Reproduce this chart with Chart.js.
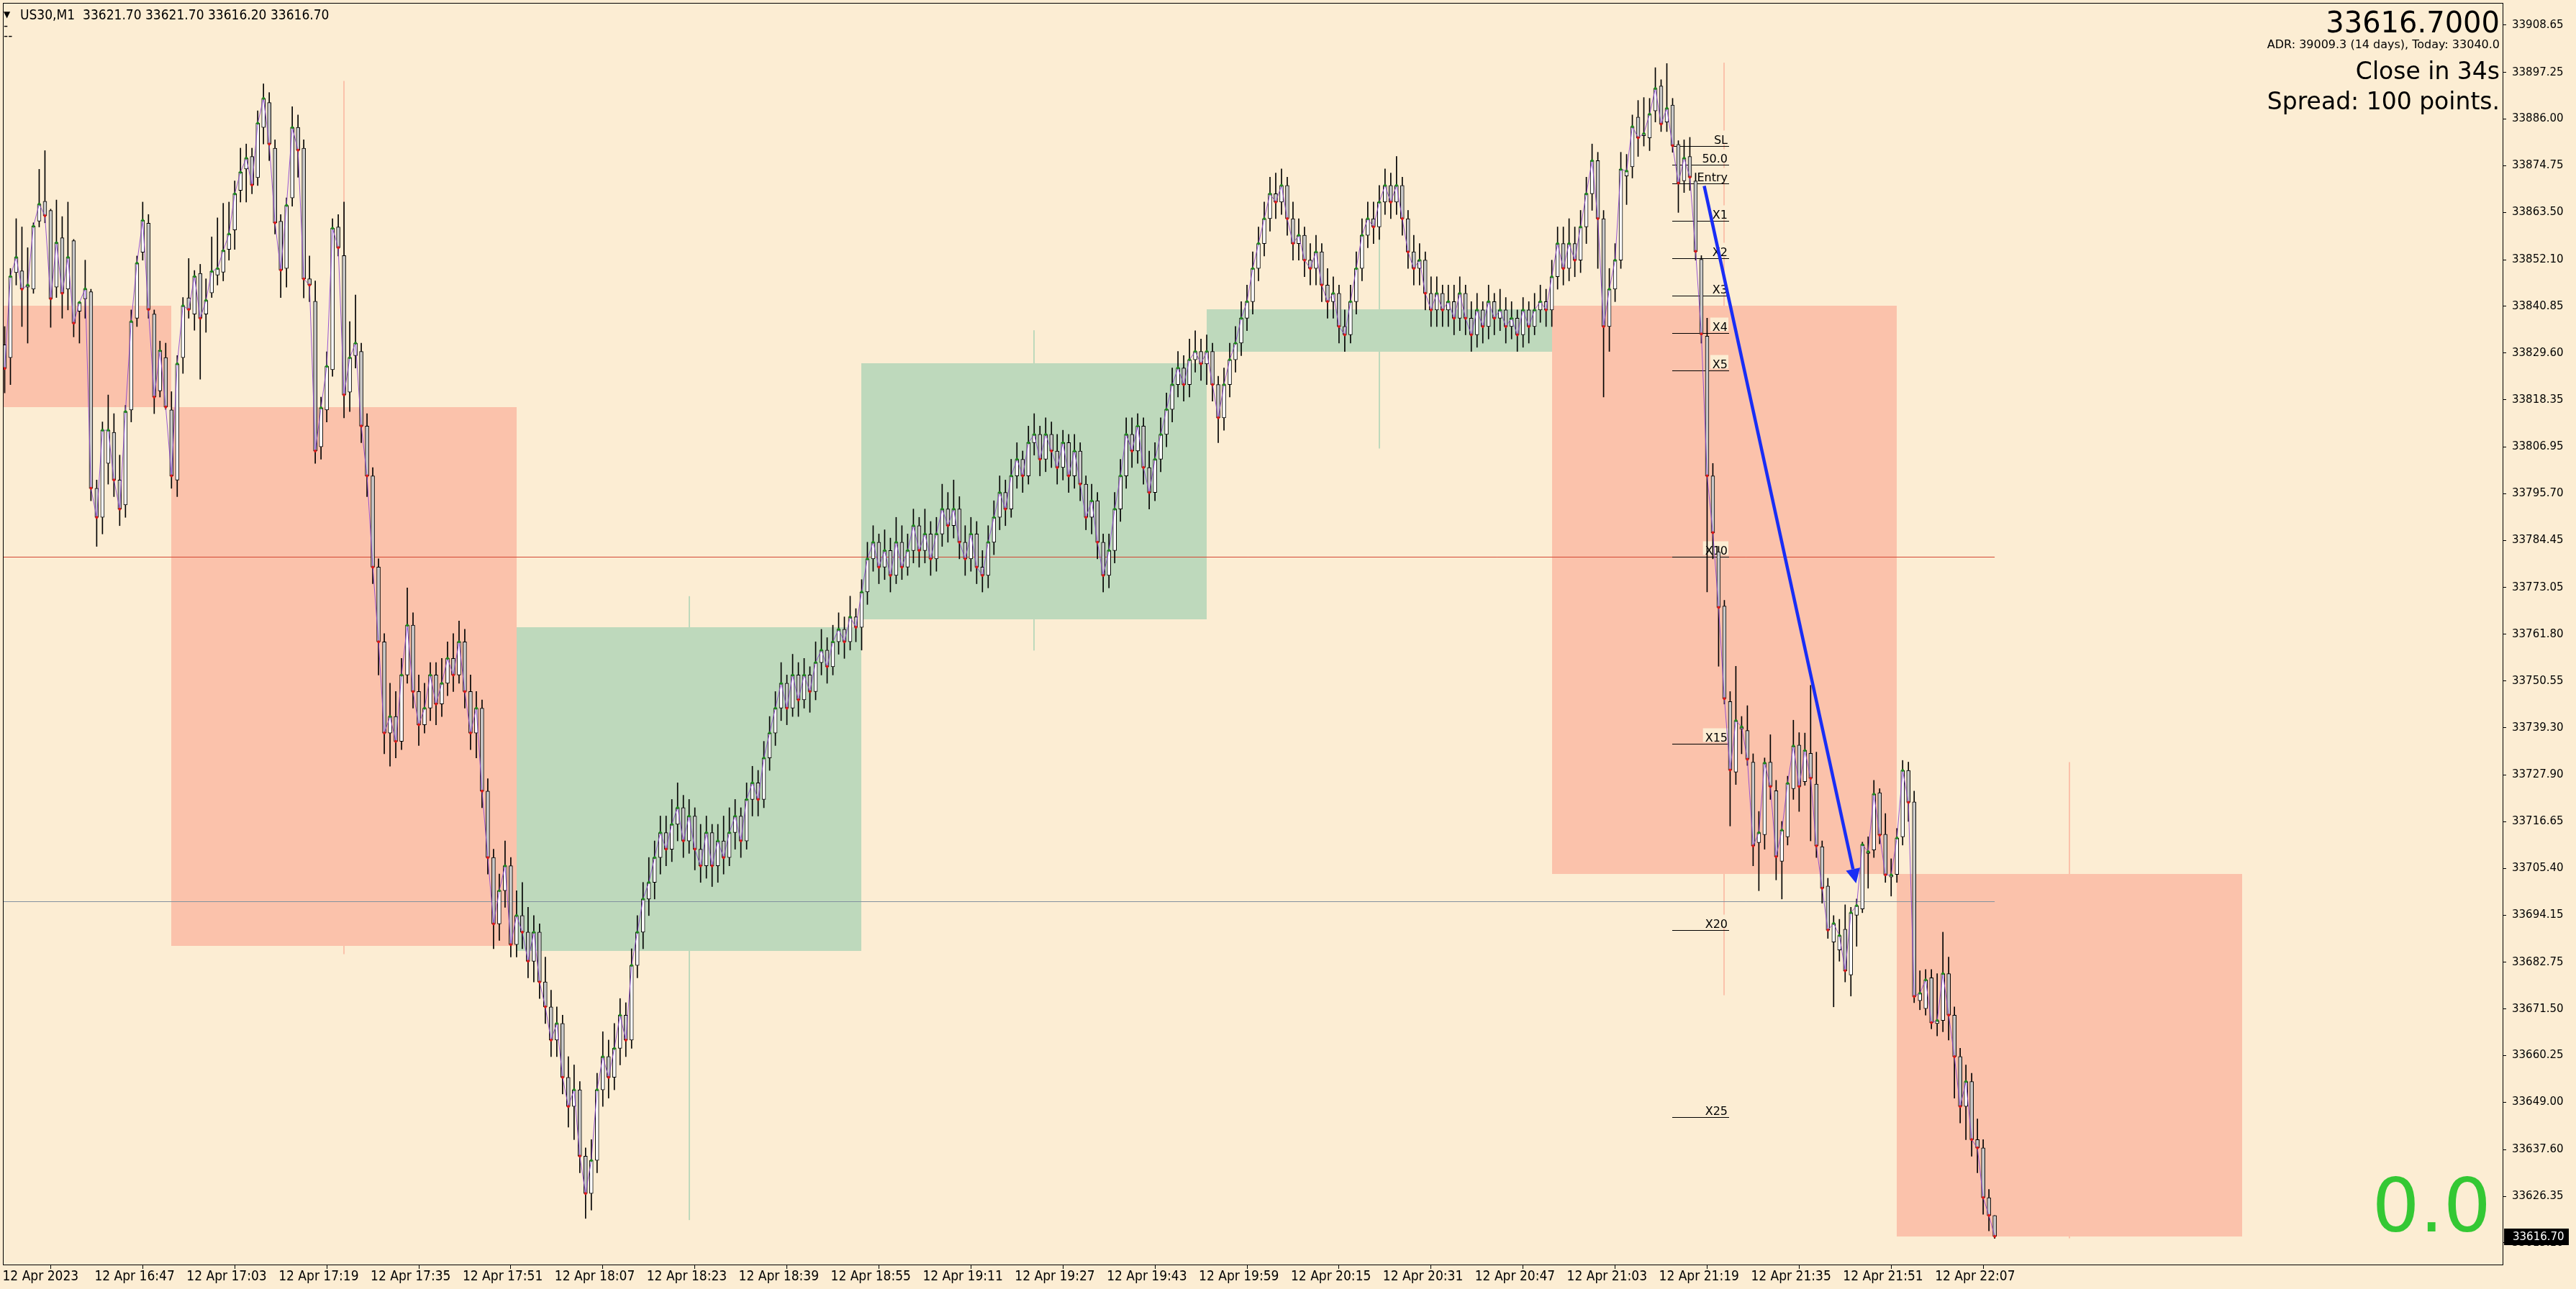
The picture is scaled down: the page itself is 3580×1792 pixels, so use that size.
<!DOCTYPE html>
<html><head><meta charset="utf-8">
<script src="https://cdn.jsdelivr.net/npm/chart.js@4.4.0/dist/chart.umd.min.js"></script>
<style>html,body{margin:0;padding:0;background:#fcedd3;overflow:hidden}canvas{display:block}</style>
</head><body>
<canvas id="c" width="3580" height="1792" style="width:3580px;height:1792px"></canvas>
<script>
// ---------- DATA ----------
const symbolTitle = 'US30,M1';
const lastOHLC = ['33621.70', '33621.70', '33616.20', '33616.70'];
const infoPrice = '33616.7000';
const infoADR = 'ADR: 39009.3 (14 days), Today: 33040.0';
const infoClose = 'Close in 34s';
const infoSpread = 'Spread: 100 points.';
const infoPips = '0.0';

// one-minute candles, 12 Apr 16:31 ... 22:17
const opens = [
33831.6,33828.5,33849.0,33849.4,33845.5,33845.0,33861.4,33866.2,33864.0,33845.5,
33857.4,33845.0,33856.7,33839.7,33842.7,33844.4,33797.0,33790.0,33803.0,33810.5,
33799.0,33793.0,33815.9,33838.0,33853.9,33860.9,33839.0,33820.5,33828.5,33815.9,
33799.0,33828.5,33842.9,33839.0,33848.8,33839.0,33844.1,33848.4,33849.1,33854.6,
33859.3,33868.8,33874.0,33877.0,33871.9,33884.0,33890.0,33879.0,33861.4,33850.0,
33867.0,33884.0,33879.0,33847.5,33842.1,33807.0,33815.9,33825.6,33860.0,33853.1,
33820.2,33829.0,33830,33812,33800,33778,33760,33738,33742,33736,
33752,33764,33748,33740,33744,33752,33745,33750,33756,33752,
33760,33748,33738,33744,33724,33708,33692,33700,33706,33687,
33694,33690,33683,33690,33678,33672,33664,33668,33655,33648,
33652,33636,33627,33635,33652,33660,33655,33662,33670,33664,
33682,33690,33698,33702,33708,33714,33710,33716,33720,33712,
33718,33710,33706,33714,33706,33712,33708,33714,33718,33712,
33722,33726,33722,33732,33738,33744,33750,33744,33752,33746,
33752,33748,33755,33758,33754,33760,33763,33760,33766,33763.5,
33772,33780,33784,33778,33782,33776,33784,33778,33782,33788,
33782,33786,33780,33786,33792,33788,33792,33784,33780,33786,
33778,33776,33784,33790,33796,33792,33800,33804,33800,33808,
33810,33804,33810,33806,33802,33808,33800,33806,33798,33790,
33794,33784,33776,33782,33792,33800,33810,33806,33812,33802,
33796,33804,33810,33816,33822,33826,33822,33828,33830,33827,
33830,33822,33814,33822,33828,33832,33838,33842,33850,33856,
33862,33868,33866,33870,33862,33856,33858,33852,33850,33854,
33846,33842,33844,33836,33834,33842,33850,33858,33862,33860,
33866,33870,33866,33870,33862,33854,33850,33852,33844,33840,
33844,33840,33842,33838,33844,33838,33834,33840,33836,33842,
33838,33840,33836,33838,33834,33840,33836,33840,33842,33840,
33848,33856,33850,33856,33852,33860,33868,33876,33862,33836,
33845,33852,33872.3,33874.5,33886.5,33882.0,33881.5,33888.0,33894.0,33885.3,
33889.4,33879.9,33871.1,33877.0,33871.1,33852.2,33833.7,33800.0,33781.7,33768.6,
33745.6,33728.6,33739.0,33738.6,33731.0,33711.6,33713.5,33731.0,33724.1,33707.1,
33713.0,33724.6,33735.1,33726.3,33733.1,33725.7,33710.6,33701.1,33687.6,33685.7,
33690.7,33679.7,33694.1,33695.6,33709.0,33709.8,33723.6,33713.6,33703.3,33703.9,
33713.0,33729.0,33721.4,33673.5,33671.6,33679.0,33668.0,33668.7,33680,33670,
33660,33648,33654,33640,33638,33626,33621.7];

const highs = [
33836.0,33850.0,33862.0,33860.0,33855.0,33861.0,33873.9,33878.4,33864.3,33866.5,
33862.5,33866.0,33857.0,33842.0,33852.0,33845.0,33799.0,33813.0,33819.5,33815.0,
33805.0,33817.0,33840.0,33853.0,33866.0,33863.0,33840.0,33832.5,33832.0,33820.3,
33829.0,33843.0,33852.4,33849.5,33851.0,33847.5,33857.6,33862.2,33865.7,33866.0,
33871.1,33879.0,33880.0,33879.0,33888.0,33894.5,33892.4,33881.0,33863.0,33867.0,
33889.0,33887.0,33881.0,33853.0,33847.0,33819.0,33829.9,33862.0,33863.0,33866.0,
33837.2,33843.6,33832,33815,33802,33780,33762,33750,33748,33756,
33773,33767,33752,33750,33755,33755,33756,33760,33762,33765,
33763,33752,33748,33746,33727,33710,33704,33712,33708,33700,
33702,33696,33694,33692,33684,33676,33672,33670,33660,33658,
33654,33638,33640,33656,33666,33664,33668,33674,33673,33686,
33694,33702,33708,33712,33718,33718,33722,33726,33723,33722,
33720,33716,33718,33716,33716,33718,33720,33722,33720,33726,
33730,33729,33736,33742,33748,33755,33752,33757,33755,33756,
33754,33760,33763,33761,33764,33767,33766,33771,33768,33775,
33784,33788,33786,33787,33785,33790,33788,33786,33792,33790,
33792,33789,33790,33798,33796,33799,33795,33788,33790,33789,
33782,33788,33794,33800,33799,33804,33808,33806,33812,33815,
33812,33814,33813,33810,33811,33810,33810,33808,33800,33798,
33796,33786,33786,33796,33804,33814,33814,33815,33814,33806,
33808,33814,33820,33826,33830,33829,33833,33835,33833,33834,
33832,33824,33826,33832,33836,33842,33846,33854,33860,33866,
33872,33873,33874,33872,33866,33862,33860,33856,33858,33856,
33850,33848,33846,33840,33846,33854,33862,33866,33866,33870,
33874,33873,33877,33872,33864,33858,33856,33854,33848,33848,
33846,33846,33846,33848,33846,33842,33844,33842,33846,33844,
33845,33843,33842,33840,33843,33842,33844,33846,33845,33852,
33860,33860,33862,33860,33864,33872,33880,33878,33864,33850,
33856,33878,33877.5,33887,33890.5,33891.2,33891,33898.4,33895.5,33899.4,
33891,33880.8,33881,33881.6,33873,33853.1,33838,33803,33783,33770,
33748,33754.1,33742,33744.6,33733,33719.1,33732,33737.6,33726.6,33716.7,
33727.6,33741.1,33738.1,33738,33749.5,33733.4,33712,33703,33694,33693.1,
33696.6,33696,33698,33711.7,33713,33726.6,33724.6,33718.6,33707.7,33715,
33731.4,33731,33724,33680.7,33681,33681,33680,33690,33684,33672,
33662,33658,33656,33645,33640,33628,33621.7];

const lows = [
33820.0,33822.0,33846.0,33836.0,33832.0,33844.0,33860.0,33861.0,33835.8,33843.0,
33838.0,33840.0,33833.5,33832.0,33838.0,33794.0,33783.0,33786.0,33798.0,33795.0,
33788.0,33790.0,33813.0,33836.0,33852.0,33838.0,33815.0,33819.0,33816.0,33797.0,
33795.0,33824.7,33838.0,33835.1,33823.3,33834.6,33843.0,33846.0,33847.0,33852.0,
33854.6,33866.0,33866.0,33868.0,33870.0,33880.0,33876.0,33858.3,33843.0,33845.5,
33865.0,33872.0,33842.9,33842.0,33803.0,33804.0,33813.0,33824.0,33853.0,33814.0,
33815.5,33826.0,33808,33795,33774,33752,33733,33730,33732,33734,
33750,33744,33735,33738,33741,33740,33742,33747,33748,33750,
33744,33734,33732,33720,33704,33686,33688,33696,33684,33684,
33686,33679,33678,33674,33668,33660,33660,33651,33643,33640,
33632,33621,33623,33632,33648,33650,33652,33658,33660,33662,
33679,33686,33694,33698,33704,33706,33707,33712,33708,33709,
33705,33702,33703,33701,33702,33704,33706,33710,33708,33710,
33718,33718,33720,33729,33735,33741,33740,33742,33742,33744,
33743,33746,33752,33750,33752,33757,33756,33758,33760,33758,
33769,33777,33774,33775,33772,33774,33775,33776,33779,33778,
33779,33776,33777,33783,33784,33785,33780,33776,33777,33774,
33772,33773,33781,33787,33788,33790,33797,33796,33798,33805,
33800,33801,33802,33798,33799,33796,33797,33794,33787,33786,
33780,33772,33773,33779,33789,33797,33802,33803,33798,33792,
33794,33801,33807,33813,33819,33818,33819,33825,33823,33822,
33818,33808,33811,33819,33825,33829,33835,33839,33847,33853,
33859,33862,33863,33858,33852,33852,33848,33846,33846,33842,
33838,33838,33832,33830,33832,33839,33847,33855,33856,33857,
33863,33862,33863,33858,33850,33846,33846,33840,33836,33836,
33836,33836,33834,33835,33834,33830,33831,33832,33833,33834,
33835,33832,33833,33830,33831,33832,33834,33837,33836,33836,
33845,33846,33847,33848,33849,33856,33864,33850,33819,33830,
33842,33850,33865.4,33871.8,33877,33879.5,33878.4,33885.3,33883,33883,
33878,33863.5,33868.3,33868.8,33852,33832,33772,33780,33754.1,33745,
33715.6,33725.6,33733,33730.2,33706,33700,33710,33722,33702.6,33698,
33711,33722,33719.1,33725.4,33712,33708,33697,33688.5,33672,33683,
33678,33674.6,33686.6,33694.7,33700.6,33708,33711.3,33702,33698.7,33702,
33711,33716.7,33673,33671.3,33670,33666.7,33665,33666,33664,33650,
33644,33640,33636,33632,33622,33618,33616.2];

const closes = [
33825.9,33848.1,33852.7,33845.0,33846.0,33860.2,33865.5,33862.7,33842.7,33856.2,
33844.0,33852.7,33836.8,33841.8,33845.1,33797.0,33790.0,33811.0,33811.0,33799.0,
33792.0,33815.5,33837.2,33851.3,33861.6,33840.1,33819.0,33830.2,33816.6,33800.0,
33827.0,33841.0,33840.1,33848.1,33838.0,33842.3,33849.3,33850.0,33854.3,33858.3,
33868.0,33873.2,33876.6,33870.1,33885.0,33891.0,33880.0,33861.0,33849.6,33865.2,
33884.0,33878.5,33847.5,33846.0,33806.0,33816.4,33826.4,33859.7,33855.0,33819.5,
33828.5,33832.0,33812,33800,33778,33760,33738,33742,33736,33752,
33764,33748,33740,33744,33752,33745,33750,33756,33752,33760,
33748,33738,33744,33724,33708,33692,33700,33706,33687,33694,
33690,33683,33690,33678,33672,33664,33668,33655,33648,33652,
33636,33627,33635,33652,33660,33655,33662,33670,33664,33682,
33690,33698,33702,33708,33714,33710,33716,33720,33712,33718,
33710,33706,33714,33706,33712,33708,33714,33718,33712,33722,
33726,33722,33732,33738,33744,33750,33744,33752,33746,33752,
33748,33755,33758,33754,33760,33763,33760,33766,33763.5,33772,
33780,33784,33778,33782,33776,33784,33778,33782,33788,33782,
33786,33780,33786,33792,33788,33792,33784,33780,33786,33778,
33776,33784,33790,33796,33792,33800,33804,33800,33808,33810,
33804,33810,33806,33802,33808,33800,33806,33798,33790,33794,
33784,33776,33782,33792,33800,33810,33806,33812,33802,33796,
33804,33810,33816,33822,33826,33822,33828,33830,33827,33830,
33822,33814,33822,33828,33832,33838,33842,33850,33856,33862,
33868,33866,33870,33862,33856,33858,33852,33850,33854,33846,
33842,33844,33836,33834,33842,33850,33858,33862,33860,33866,
33870,33866,33870,33862,33854,33850,33852,33844,33840,33844,
33840,33842,33838,33844,33838,33834,33840,33836,33842,33838,
33840,33836,33838,33834,33840,33836,33840,33842,33840,33848,
33856,33850,33856,33852,33860,33868,33876,33862,33836,33845,
33852,33873.9,33873.5,33884.2,33881.5,33882.5,33887.2,33893.4,33884.8,33888.6,
33879.6,33870.6,33876.6,33872.0,33854.1,33834.2,33800.0,33786.3,33768.3,33746.3,
33729.1,33741.0,33739.5,33731.7,33710.8,33714.0,33730.8,33725.1,33708.2,33714.6,
33725.9,33734.9,33725.1,33733.8,33727.1,33710.8,33700.6,33690.5,33692.1,33689.2,
33680.7,33694.7,33696.4,33711.1,33709.4,33723.3,33713.4,33703.8,33703.8,33712.7,
33729.0,33721.3,33674.5,33675.3,33678.5,33668.2,33668.7,33680,33670,33660,
33648,33654,33640,33638,33626,33621.7,33616.7];

// hourly candles drawn as boxes (index of the hh:00 minute)
const hourStart = [-31, 29, 89, 149, 209, 269, 329];
const hourOpen  = [33841.0, 33816.5, 33685.5, 33765.4, 33829.9, 33841.0, 33704.1];
const hourClose = [33816.5, 33686.7, 33763.5, 33827.2, 33840.2, 33704.1, 33616.7];
const hourHigh  = [33870.0, 33895.2, 33771.0, 33835.1, 33858.8, 33899.6, 33731.0];
const hourLow   = [33794.0, 33684.7, 33620.6, 33757.9, 33806.6, 33674.8, 33616.2];

// horizontal lines
const hLinePrices = [33780.5, 33697.4];
const hLineColors = ['rgb(210,70,50)', 'rgb(130,145,160)'];
const hLineEndIdx = 346;

// trade levels tool
const fibLabels = ['SL', '50.0', 'Entry', 'X1', 'X2', 'X3', 'X4', 'X5', 'X10', 'X15', 'X20', 'X25'];
const fibPrices = [33879.5, 33875.0, 33870.5, 33861.5, 33852.5, 33843.5, 33834.5, 33825.5, 33780.5, 33735.5, 33690.5, 33645.5];
const fibFromIdx = 290, fibToIdx = 299.6;

// blue arrow [index, price]
const arrowFrom = [295.5, 33869.9];
const arrowTo = [321.9, 33701.8];

// axis ticks
const xTickIdx = [0,16,32,48,64,80,96,112,128,144,160,176,192,208,224,240,256,272,288,304,320,336];
const xTickLabels = ['12 Apr 2023','12 Apr 16:47','12 Apr 17:03','12 Apr 17:19','12 Apr 17:35','12 Apr 17:51',
 '12 Apr 18:07','12 Apr 18:23','12 Apr 18:39','12 Apr 18:55','12 Apr 19:11','12 Apr 19:27','12 Apr 19:43',
 '12 Apr 19:59','12 Apr 20:15','12 Apr 20:31','12 Apr 20:47','12 Apr 21:03','12 Apr 21:19','12 Apr 21:35',
 '12 Apr 21:51','12 Apr 22:07'];
const yTicks = [33908.65,33897.25,33886.00,33874.75,33863.50,33852.10,33840.85,33829.60,33818.35,33806.95,
 33795.70,33784.45,33773.05,33761.80,33750.55,33739.30,33727.90,33716.65,33705.40,33694.15,33682.75,
 33671.50,33660.25,33649.00,33637.60,33626.35,33615.10];

// ---------- STYLE ----------
const BG = '#fcedd3';
const RED_BOX = 'rgb(251,194,171)';
const GREEN_BOX = 'rgb(190,217,188)';
const BEAR = '#c8c8c8', BULL = '#ffffff';
const X_MIN = -0.3125, X_MAX = 434.3125;
const Y_MIN = 33609.88, Y_MAX = 33914.02;

const idx = closes.map((_, i) => i);
const bodyData = idx.map(i => ({x: i, y: [opens[i], closes[i]]}));
const wickData = idx.map(i => ({x: i, y: [lows[i], highs[i]]}));
const lineData = idx.map(i => ({x: i, y: closes[i]}));
const bodyColors = idx.map(i => closes[i] >= opens[i] ? BULL : BEAR);
const dotColors = idx.map(i => closes[i] >= opens[i] ? '#1f8a1f' : '#dd1a1a');

const bgPlugin = {
  id: 'bg',
  beforeDraw(chart) {
    const c = chart.ctx; c.save(); c.fillStyle = BG; c.fillRect(0, 0, chart.width, chart.height); c.restore();
  }
};

const underlayPlugin = {
  id: 'underlay',
  beforeDatasetsDraw(chart) {
    const {ctx, chartArea: a, scales: {x, y}} = chart;
    ctx.save();
    ctx.beginPath(); ctx.rect(a.left, a.top, a.right - a.left, a.bottom - a.top); ctx.clip();
    for (let h = 0; h < hourStart.length; h++) {
      const up = hourClose[h] >= hourOpen[h];
      ctx.fillStyle = up ? GREEN_BOX : RED_BOX;
      const xm = Math.round(x.getPixelForValue(hourStart[h] + 30));
      const yh = y.getPixelForValue(hourHigh[h]), yl = y.getPixelForValue(hourLow[h]);
      ctx.fillRect(xm - 1, yh, 2, yl - yh);
      const x1 = Math.round(x.getPixelForValue(hourStart[h])), x2 = Math.round(x.getPixelForValue(hourStart[h] + 60));
      const y1 = Math.round(y.getPixelForValue(Math.max(hourOpen[h], hourClose[h])));
      const y2 = Math.round(y.getPixelForValue(Math.min(hourOpen[h], hourClose[h])));
      ctx.fillRect(x1, y1, x2 - x1, y2 - y1);
    }
    const xe = x.getPixelForValue(hLineEndIdx);
    hLinePrices.forEach((p, k) => {
      const yy = Math.round(y.getPixelForValue(p)) + 0.5;
      ctx.strokeStyle = hLineColors[k]; ctx.lineWidth = 1;
      ctx.beginPath(); ctx.moveTo(a.left, yy); ctx.lineTo(xe, yy); ctx.stroke();
    });
    const fx1 = Math.round(x.getPixelForValue(fibFromIdx)), fx2 = Math.round(x.getPixelForValue(fibToIdx));
    ctx.font = "16px 'DejaVu Sans'";
    ctx.textAlign = 'right'; ctx.textBaseline = 'alphabetic';
    fibPrices.forEach((p, k) => {
      const yy = Math.round(y.getPixelForValue(p)) + 0.5;
      const w = ctx.measureText(fibLabels[k]).width;
      ctx.fillStyle = BG;
      ctx.fillRect(fx2 - w - 3, yy - 22, w + 4, 19);
      ctx.strokeStyle = '#000'; ctx.lineWidth = 1;
      ctx.beginPath(); ctx.moveTo(fx1, yy); ctx.lineTo(fx2 + 2, yy); ctx.stroke();
      ctx.fillStyle = '#000';
      ctx.fillText(fibLabels[k], fx2, yy - 4);
    });
    ctx.restore();
  }
};

const overlayPlugin = {
  id: 'overlay',
  afterDatasetsDraw(chart) {
    const {ctx, scales: {x, y}} = chart;
    const p1 = {x: x.getPixelForValue(arrowFrom[0]), y: y.getPixelForValue(arrowFrom[1])};
    const p2 = {x: x.getPixelForValue(arrowTo[0]), y: y.getPixelForValue(arrowTo[1])};
    const ang = Math.atan2(p2.y - p1.y, p2.x - p1.x);
    const hl = 20, hw = 10;
    const bx = p2.x - hl * Math.cos(ang), by = p2.y - hl * Math.sin(ang);
    ctx.save();
    ctx.strokeStyle = 'rgb(25,45,245)'; ctx.fillStyle = 'rgb(25,45,245)';
    ctx.lineWidth = 4.5; ctx.lineCap = 'butt';
    ctx.beginPath(); ctx.moveTo(p1.x, p1.y); ctx.lineTo(bx, by); ctx.stroke();
    ctx.beginPath();
    ctx.moveTo(p2.x, p2.y);
    ctx.lineTo(bx + hw * Math.sin(ang), by - hw * Math.cos(ang));
    ctx.lineTo(bx - hw * Math.sin(ang), by + hw * Math.cos(ang));
    ctx.closePath(); ctx.fill();
    ctx.restore();
  },
  afterDraw(chart) {
    const {ctx, chartArea: a, scales: {y}} = chart;
    ctx.save();
    ctx.strokeStyle = '#000'; ctx.lineWidth = 1;
    ctx.strokeRect(a.left + 0.5, a.top + 0.5, a.right - a.left, a.bottom - a.top);
    const yp = Math.round(y.getPixelForValue(closes[closes.length - 1]));
    ctx.fillStyle = '#000';
    ctx.fillRect(a.right + 2, yp - 11, 90, 23);
    ctx.fillStyle = '#fff'; ctx.font = "15px 'DejaVu Sans'"; ctx.textAlign = 'left'; ctx.textBaseline = 'middle';
    ctx.fillText(closes[closes.length - 1].toFixed(2), a.right + 14, yp + 1);
    ctx.fillStyle = '#000'; ctx.textBaseline = 'alphabetic';
    ctx.font = "12px 'DejaVu Sans'"; ctx.fillText('\u25BC', 5, 24);
    ctx.font = "19px 'DejaVu Sans Condensed'";
    ctx.fillText(symbolTitle + '  ' + lastOHLC.join(' '), 28, 27);
    ctx.font = "17px 'DejaVu Sans'";
    ctx.fillText('-', 5, 41); ctx.fillText('--', 5, 55);
    ctx.textAlign = 'right';
    const rx = a.right - 4;
    ctx.font = "40px 'DejaVu Sans'"; ctx.fillText(infoPrice, rx, 45);
    ctx.font = "16px 'DejaVu Sans'"; ctx.fillText(infoADR, rx, 67);
    ctx.font = "33px 'DejaVu Sans'"; ctx.fillText(infoClose, rx, 110);
    ctx.fillText(infoSpread, rx, 152);
    ctx.fillStyle = 'rgb(52,200,52)';
    ctx.font = "104px 'DejaVu Sans'"; ctx.fillText(infoPips, a.right - 16, 1712);
    ctx.restore();
  }
};

new Chart(document.getElementById('c'), {
  type: 'bar',
  data: {
    datasets: [
      { type: 'line', label: 'close', data: lineData, borderColor: 'rgba(140,70,210,0.9)', borderWidth: 1,
        pointRadius: 2, pointBorderWidth: 0, pointBackgroundColor: dotColors, tension: 0, order: 0 },
      { label: 'body', data: bodyData, backgroundColor: bodyColors, borderColor: '#000', borderWidth: 1,
        borderSkipped: false, barThickness: 5, grouped: false, minBarLength: 1, order: 1 },
      { label: 'wick', data: wickData, backgroundColor: '#000', borderWidth: 0,
        barThickness: 1, grouped: false, order: 2 }
    ]
  },
  options: {
    responsive: false, animation: false, devicePixelRatio: 1, events: [],
    layout: { padding: { left: 1, top: 1, right: 0, bottom: 0 } },
    plugins: { legend: { display: false }, tooltip: { enabled: false } },
    scales: {
      x: {
        type: 'linear', min: X_MIN, max: X_MAX, offset: false, position: 'bottom',
        afterBuildTicks: s => { s.ticks = xTickIdx.map(v => ({ value: v })); },
        afterFit: s => { s.height = 34; s.paddingLeft = 0; s.paddingRight = 0; s.paddingTop = 0; s.paddingBottom = 0; },
        grid: { drawOnChartArea: false, drawTicks: true, tickLength: 6, color: '#000' },
        border: { display: false },
        ticks: { autoSkip: false, maxRotation: 0, minRotation: 0, align: 'start', labelOffset: -3, padding: 0,
          color: '#000', font: { family: "'DejaVu Sans Condensed',sans-serif", size: 19 },
          callback: (v, i) => xTickLabels[i] }
      },
      y: {
        type: 'linear', position: 'right', min: Y_MIN, max: Y_MAX,
        afterBuildTicks: s => { s.ticks = yTicks.map(v => ({ value: v })); },
        afterFit: s => { s.width = 102; s.paddingTop = 0; s.paddingBottom = 0; s.paddingLeft = 0; s.paddingRight = 0; },
        grid: { drawOnChartArea: false, drawTicks: true, tickLength: 5, color: '#000' },
        border: { display: false },
        ticks: { padding: 8, color: '#000', font: { family: "'DejaVu Sans'", size: 15 },
          callback: v => v.toFixed(2) }
      }
    }
  },
  plugins: [bgPlugin, underlayPlugin, overlayPlugin]
});
</script>
</body></html>
